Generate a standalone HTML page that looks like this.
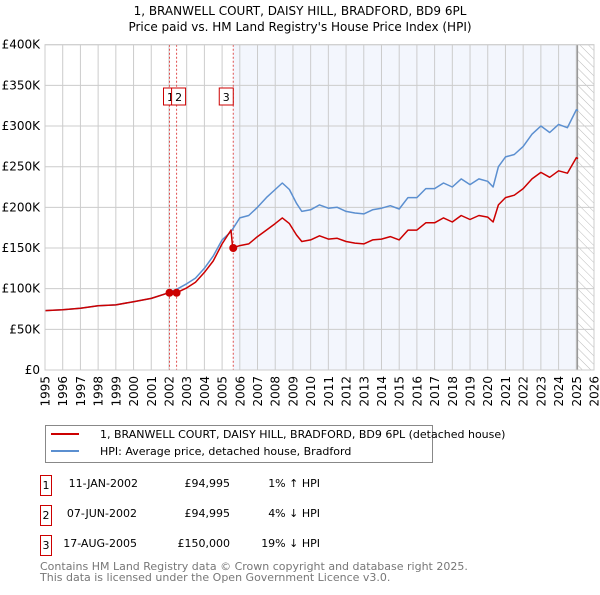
<!DOCTYPE html>
<html><head><meta charset="utf-8"><style>
body{margin:0;background:#fff;font-family:"Liberation Sans","DejaVu Sans",sans-serif;}
svg text{font-family:"DejaVu Sans","Liberation Sans",sans-serif;}
</style></head><body>
<svg width="600" height="590" xmlns="http://www.w3.org/2000/svg">
<defs><pattern id="hatch" width="6" height="6" patternUnits="userSpaceOnUse" patternTransform="rotate(-45)"><line x1="0" y1="0" x2="0" y2="6" stroke="#bbb" stroke-width="1"/></pattern></defs>
<text x="300" y="15" text-anchor="middle" font-size="12">1, BRANWELL COURT, DAISY HILL, BRADFORD, BD9 6PL</text>
<text x="300" y="31" text-anchor="middle" font-size="12">Price paid vs. HM Land Registry's House Price Index (HPI)</text>
<g id="plot"></g>
<g>
<rect x="45.5" y="425.5" width="387" height="37" fill="#fff" stroke="#888"/>
<line x1="51" y1="434" x2="79" y2="434" stroke="#cc0000" stroke-width="2"/>
<text x="100" y="438" font-size="11">1, BRANWELL COURT, DAISY HILL, BRADFORD, BD9 6PL (detached house)</text>
<line x1="51" y1="451" x2="79" y2="451" stroke="#5b8fd0" stroke-width="2"/>
<text x="100" y="455" font-size="11">HPI: Average price, detached house, Bradford</text>
</g>
<g font-size="11">
<rect x="40.5" y="475.5" width="11" height="20" fill="#fff" stroke="#cc0000"/><text x="46" y="489" text-anchor="middle">1</text>
<text x="138" y="487" text-anchor="end">11-JAN-2002</text><text x="230" y="487" text-anchor="end">£94,995</text><text x="320" y="487" text-anchor="end">1% ↑ HPI</text>
<rect x="40.5" y="505.5" width="11" height="20" fill="#fff" stroke="#cc0000"/><text x="46" y="519" text-anchor="middle">2</text>
<text x="137" y="517" text-anchor="end">07-JUN-2002</text><text x="230" y="517" text-anchor="end">£94,995</text><text x="320" y="517" text-anchor="end">4% ↓ HPI</text>
<rect x="40.5" y="535.5" width="11" height="20" fill="#fff" stroke="#cc0000"/><text x="46" y="549" text-anchor="middle">3</text>
<text x="137" y="547" text-anchor="end">17-AUG-2005</text><text x="230" y="547" text-anchor="end">£150,000</text><text x="320" y="547" text-anchor="end">19% ↓ HPI</text>
</g>
<text x="40" y="570" font-size="11" fill="#777">Contains HM Land Registry data © Crown copyright and database right 2025.</text>
<text x="40" y="581" font-size="11" fill="#777">This data is licensed under the Open Government Licence v3.0.</text>
</svg>
<script>
const hpiYears=[1995,1996,1997,1998,1999,2000,2001,2002,2002.5,2003,2003.5,2004,2004.5,2005,2005.5,2006,2006.5,2007,2007.5,2008,2008.4,2008.8,2009.2,2009.5,2010,2010.5,2011,2011.5,2012,2012.5,2013,2013.5,2014,2014.5,2015,2015.5,2016,2016.5,2017,2017.5,2018,2018.5,2019,2019.5,2020,2020.3,2020.6,2021,2021.5,2022,2022.5,2023,2023.5,2024,2024.5,2025,2025.1];
const hpiValues=[73,74,76,79,80,84,88,95,100,106,113,125,140,160,170,187,190,200,212,222,230,222,205,195,197,203,199,200,195,193,192,197,199,202,198,212,212,223,223,230,225,235,228,235,232,225,250,262,265,275,290,300,292,302,298,320,319];
const redYears=[1995,1996,1997,1998,1999,2000,2001,2002,2002.43,2003,2003.5,2004,2004.5,2005,2005.5,2005.6,2006,2006.5,2007,2007.5,2008,2008.4,2008.8,2009.2,2009.5,2010,2010.5,2011,2011.5,2012,2012.5,2013,2013.5,2014,2014.5,2015,2015.5,2016,2016.5,2017,2017.5,2018,2018.5,2019,2019.5,2020,2020.3,2020.6,2021,2021.5,2022,2022.5,2023,2023.5,2024,2024.5,2025,2025.1];
const redValues=[73,74,76,79,80,84,88,95,95,101,108,120,134,155,172,150,153,155,164,172,180,187,180,166,158,160,165,161,162,158,156,155,160,161,164,160,172,172,181,181,187,182,190,185,190,188,182,203,212,215,223,235,243,237,245,242,261,260];
const sales=[[2002.03,94.995,"1"],[2002.43,94.995,"2"],[2005.63,150,"3"]];
const yTicks=[0,50,100,150,200,250,300,350,400];
const yTickLabels=["£0","£50K","£100K","£150K","£200K","£250K","£300K","£350K","£400K"];
const X0=45,X1=594,Y0=370,Y1=44.7;
const x=v=>X0+(v-1995)/(2026-1995)*(X1-X0);
const y=v=>Y0-v/400*(Y0-Y1);
const NS="http://www.w3.org/2000/svg";
const g=document.getElementById('plot');
function mk(t,a,p){const e=document.createElementNS(NS,t);for(const k in a)e.setAttribute(k,a[k]);(p||g).appendChild(e);return e;}
let r=mk('rect',{x:X0,y:Y1,width:X1-X0,height:Y0-Y1,fill:'#fff'});

r=mk('rect',{x:x(2005.63),y:Y1,width:x(2025.06)-x(2005.63),height:Y0-Y1,fill:'#f3f6fd'});

r=mk('rect',{x:x(2025.06),y:Y1,width:X1-x(2025.06),height:Y0-Y1,fill:'url(#hatch)'});

for(let yr=1995;yr<=2026;yr++){
 let l=mk('line',{x1:x(yr),x2:x(yr),y1:Y1,y2:Y0,stroke:'#cccccc'});
 
 const tx=x(yr)+4.5,ty=376;
 let t=mk('text',{x:tx,y:ty,'text-anchor':'end','font-size':12,transform:'rotate(-90 '+tx+' '+ty+')'});t.textContent=yr;
 
}
yTicks.forEach((v,i)=>{
 let l=mk('line',{x1:X0,x2:X1,y1:y(v),y2:y(v),stroke:'#cccccc'});
 
 let t=mk('text',{x:40,y:y(v)+4,'text-anchor':'end','font-size':12});t.textContent=yTickLabels[i];
 
});
let vl=mk('line',{x1:x(2025.06),x2:x(2025.06),y1:Y1,y2:Y0,stroke:'#999','stroke-width':1.5});

sales.forEach(s=>{
 let l=mk('line',{x1:x(s[0]),x2:x(s[0]),y1:Y1,y2:Y0,stroke:'#e05050','stroke-dasharray':'2,2'});
 
});
function path(xs,vs,col,name){
 let d=xs.map((v,i)=>(i?'L':'M')+x(v).toFixed(1)+','+y(vs[i]).toFixed(1)).join('');
 let p=mk('path',{d:d,fill:'none',stroke:col,'stroke-width':1.5,'stroke-linejoin':'round'});
 
}
path(hpiYears,hpiValues,'#5b8fd0','hpi-line');
path(redYears,redValues,'#cc0000','property-price-line');
sales.forEach((s,i)=>{
 let c=mk('circle',{cx:x(s[0]),cy:y(s[1]),r:4,fill:'#cc0000'});
 
 let bx=i===0?x(s[0])-6:(i===1?x(s[0])-5:x(s[0])-14);
 let b=mk('rect',{x:bx,y:88,width:14,height:17,fill:'#fff',stroke:'#cc0000'});
 
 let t=mk('text',{x:bx+7,y:101,'text-anchor':'middle','font-size':11});t.textContent=s[2];
 
});
let bd=mk('rect',{x:X0,y:Y1,width:X1-X0,height:Y0-Y1,fill:'none',stroke:'#cccccc'});

</script>
</body></html>
